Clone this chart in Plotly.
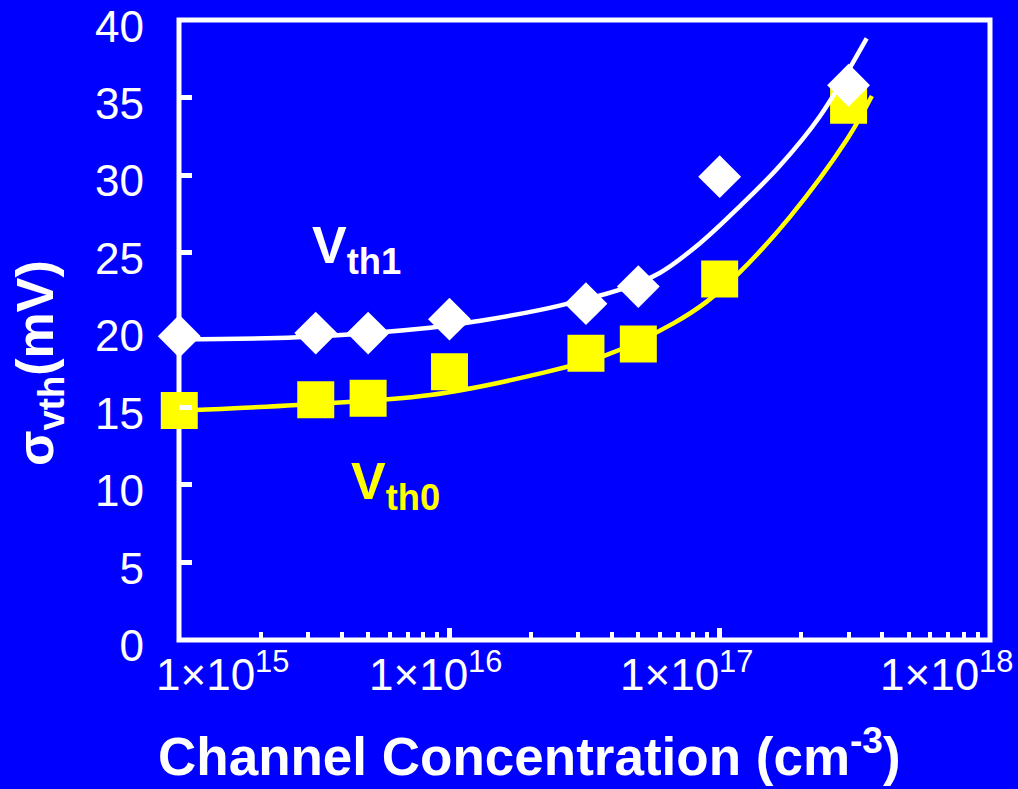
import numpy as np
import plotly.graph_objects as go

# ---- data ----
conc_vth1 = [1.0e15, 3.2e15, 5.0e15, 1.0e16, 3.2e16, 5.0e16, 1.0e17, 3.0e17]
sigma_vth1 = [19.6, 19.8, 19.8, 20.7, 21.7, 22.8, 29.9, 35.8]

conc_vth0 = [1.0e15, 3.2e15, 5.0e15, 1.0e16, 3.2e16, 5.0e16, 1.0e17, 3.0e17]
sigma_vth0 = [14.8, 15.5, 15.6, 17.3, 18.5, 19.1, 23.3, 34.5]

fit1_x = [1.0e15, 2.73e15, 8.48e15, 1.3e16, 2.17e16, 3.04e16, 4.28e16, 6.02e16, 8.46e16,
          1.19e17, 1.67e17, 2.35e17, 3.50e17]
fit1_y = [19.4, 19.53, 20.15, 20.6, 21.3, 21.9, 22.6, 23.7, 25.6,
          28.0, 30.6, 33.8, 38.82]

fit0_x = [1.0e15, 2.73e15, 8.48e15, 2.17e16, 3.82e16, 6.74e16, 8.96e16, 1.19e17, 1.82e17, 2.95e17, 3.66e17]
fit0_y = [14.8, 15.16, 15.8, 17.2, 18.39, 20.43, 21.83, 23.75, 27.3, 32.26, 35.1]

x_tick_vals = [1e15, 1e16, 1e17, 1e18]
x_tick_text = ["1×10<sup>15</sup>", "1×10<sup>16</sup>", "1×10<sup>17</sup>", "1×10<sup>18</sup>"]
y_tick_vals = [0, 5, 10, 15, 20, 25, 30, 35, 40]

# ---- style ----
BG = "#0000FF"
WHITE = "#FFFFFF"
YELLOW = "#FFFF00"
FONT = "Arial, Liberation Sans, sans-serif"
x_label_shift = [43, -14, -33, -43]

fig = go.Figure()

fig.add_trace(go.Scatter(x=fit0_x, y=fit0_y, mode="lines",
                         line=dict(color=YELLOW, width=4.5, shape="spline", smoothing=1.0),
                         hoverinfo="skip", showlegend=False))
fig.add_trace(go.Scatter(x=conc_vth0, y=sigma_vth0, mode="markers",
                         marker=dict(symbol="square", size=37, color=YELLOW, line=dict(width=0)),
                         cliponaxis=False, showlegend=False))
fig.add_trace(go.Scatter(x=fit1_x, y=fit1_y, mode="lines",
                         line=dict(color=WHITE, width=4.5, shape="spline", smoothing=1.0),
                         hoverinfo="skip", showlegend=False))
fig.add_trace(go.Scatter(x=conc_vth1, y=sigma_vth1, mode="markers",
                         marker=dict(symbol="diamond", size=33, color=WHITE, line=dict(width=0)),
                         cliponaxis=False, showlegend=False))

annotations = []
for v, t, s in zip(x_tick_vals, x_tick_text, x_label_shift):
    annotations.append(dict(x=np.log10(v), xref="x", y=0, yref="paper", yanchor="top",
                            yshift=-2, xshift=s, text=t, showarrow=False,
                            font=dict(family=FONT, size=44, color=WHITE)))

annotations.append(dict(x=0.4316, xref="paper", y=-0.195, yref="paper", yanchor="middle",
                        yshift=8,
                        text="<b>Channel Concentration (cm<sup>-3</sup>)</b>", showarrow=False,
                        font=dict(family=FONT, size=53, color=WHITE)))
annotations.append(dict(x=-0.1726, xref="paper", y=0.4468, yref="paper", textangle=-90,
                        xanchor="center", yanchor="middle",
                        text="<b>σ<sub>vth</sub>(mV)</b>", showarrow=False,
                        font=dict(family=FONT, size=52, color=WHITE)))
annotations.append(dict(x=np.log10(4.52e15), xref="x", y=25.25, yref="y",
                        text="<b>V<sub>th1</sub></b>", showarrow=False,
                        font=dict(family=FONT, size=52, color=WHITE)))
annotations.append(dict(x=np.log10(6.3e15), xref="x", y=10.0, yref="y",
                        text="<b>V<sub>th0</sub></b>", showarrow=False,
                        font=dict(family=FONT, size=52, color=YELLOW)))

fig.update_layout(
    width=1018, height=789,
    margin=dict(l=179, r=28, t=20, b=149, pad=0, autoexpand=False),
    paper_bgcolor=BG, plot_bgcolor=BG,
    annotations=annotations,
    shapes=[dict(type="rect", xref="paper", yref="paper", x0=0, x1=1, y0=0, y1=1,
                 line=dict(color=WHITE, width=5), layer="below")],
    xaxis=dict(type="log", range=[14.999, 18.0005], showgrid=False, zeroline=False, showline=False,
               automargin=False,
               tickmode="array", tickvals=x_tick_vals, showticklabels=False,
               ticks="inside", ticklen=12, tickwidth=5, tickcolor=WHITE,
               minor=dict(dtick="D1", ticks="inside", ticklen=8, tickwidth=4,
                          tickcolor=WHITE, showgrid=False)),
    yaxis=dict(range=[-0.01, 40.01], showgrid=False, zeroline=False, showline=False,
               automargin=False,
               tickmode="array", tickvals=y_tick_vals,
               ticks="inside", ticklen=13, tickwidth=5, tickcolor=WHITE,
               ticklabelstandoff=34, ticklabelshift=6, ticklabeloverflow="allow",
               tickfont=dict(family=FONT, size=44, color=WHITE)),
)

fig.write_html("out.html")
